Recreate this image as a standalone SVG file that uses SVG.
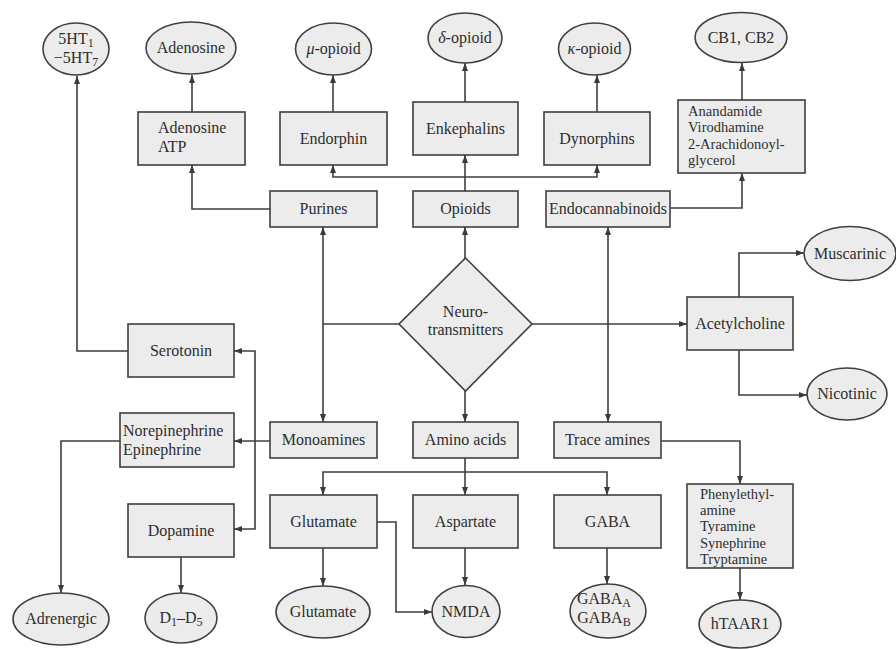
<svg xmlns="http://www.w3.org/2000/svg" width="896" height="649" viewBox="0 0 896 649">
<defs>
<marker id="ah" markerWidth="8" markerHeight="6" refX="8" refY="3" orient="auto" markerUnits="userSpaceOnUse"><path d="M0,0 L8,3 L0,6 z" fill="#3a3a3a"/></marker>
<style>
.b{fill:#ececec;stroke:#3f3f3f;stroke-width:1.6}
.t{font-family:"Liberation Serif","DejaVu Serif",serif;font-size:16px;fill:#2e2e2e;text-anchor:middle}
.l{text-anchor:start}
.m{font-size:14.5px}
.c{fill:none;stroke:#3f3f3f;stroke-width:1.6}
.a{marker-end:url(#ah)}
.s{font-size:12px}
</style>
</defs>
<rect width="896" height="649" fill="#fff"/>
<g id="connectors">
<path class="c a" d="M128,351 H77 V76"/>
<path class="c a" d="M192,112 V75"/>
<path class="c a" d="M270,209 H192 V165"/>
<path class="c a" d="M333,112 V75"/>
<path class="c a" d="M465,102 V63"/>
<path class="c a" d="M597,112 V75"/>
<path class="c a" d="M465,177 H333 V165"/>
<path class="c a" d="M465,177 H597 V165"/>
<path class="c a" d="M465,191 V155"/>
<path class="c a" d="M742,100 V63"/>
<path class="c a" d="M670,208 H742 V173"/>
<path class="c a" d="M465,258 V227"/>
<path class="c a" d="M465,391 V422"/>
<path class="c" d="M399,324 H323"/>
<path class="c a" d="M323,324 V227"/>
<path class="c a" d="M323,324 V422"/>
<path class="c a" d="M532,324 H687"/>
<path class="c a" d="M608,324 V227"/>
<path class="c a" d="M608,324 V422"/>
<path class="c a" d="M739,297 V253 H804"/>
<path class="c a" d="M739,350 V395 H807"/>
<path class="c a" d="M270,441 H234"/>
<path class="c a" d="M255,441 V351 H234"/>
<path class="c a" d="M255,441 V529 H234"/>
<path class="c a" d="M120,441 H61 V593"/>
<path class="c a" d="M181,557 V593"/>
<path class="c" d="M465,458 V472"/>
<path class="c a" d="M465,472 H323 V495"/>
<path class="c a" d="M465,472 V495"/>
<path class="c a" d="M465,472 H607 V495"/>
<path class="c a" d="M323,548 V586"/>
<path class="c a" d="M377,522 H396 V612 H432"/>
<path class="c a" d="M465,548 V585"/>
<path class="c a" d="M607,548 V584"/>
<path class="c a" d="M661,441 H740 V484"/>
<path class="c a" d="M740,568 V600"/>
</g>
<g id="n5ht"><ellipse class="b" cx="76" cy="49" rx="33" ry="26"/><text class="t" x="76" y="44">5HT<tspan class="s" dy="3">1</tspan></text><text class="t" x="76" y="63">−5HT<tspan class="s" dy="3">7</tspan></text></g>
<g id="nadenosineR"><ellipse class="b" cx="191" cy="48" rx="45" ry="26"/><text class="t" x="191" y="53">Adenosine</text></g>
<g id="nmu"><ellipse class="b" cx="333.5" cy="49" rx="38" ry="26"/><text class="t" x="333.5" y="54"><tspan font-style="italic">μ</tspan>-opioid</text></g>
<g id="ndelta"><ellipse class="b" cx="465" cy="38" rx="37" ry="25"/><text class="t" x="465" y="43"><tspan font-style="italic">δ</tspan>-opioid</text></g>
<g id="nkappa"><ellipse class="b" cx="594.5" cy="49" rx="36" ry="26"/><text class="t" x="594.5" y="54"><tspan font-style="italic">κ</tspan>-opioid</text></g>
<g id="ncb"><ellipse class="b" cx="741" cy="37.5" rx="46" ry="25"/><text class="t" x="741" y="43">CB1, CB2</text></g>
<g id="nadenatp"><rect class="b" x="138" y="112" width="107" height="53"/><text class="t l" x="158" y="133">Adenosine</text><text class="t l" x="158" y="152">ATP</text></g>
<g id="nendorphin"><rect class="b" x="280" y="112" width="107" height="53"/><text class="t" x="333.5" y="144">Endorphin</text></g>
<g id="nenkephalins"><rect class="b" x="413" y="102" width="105" height="53"/><text class="t" x="465.5" y="134">Enkephalins</text></g>
<g id="ndynorphins"><rect class="b" x="544" y="112" width="106" height="53"/><text class="t" x="597" y="144">Dynorphins</text></g>
<g id="nanandamide"><rect class="b" x="678" y="100" width="127" height="73"/><text class="t l m" x="688" y="116">Anandamide</text><text class="t l m" x="688" y="132.3">Virodhamine</text><text class="t l m" x="688" y="148.6">2-Arachidonoyl-</text><text class="t l m" x="688" y="164.9">glycerol</text></g>
<g id="npurines"><rect class="b" x="270" y="191" width="107" height="36"/><text class="t" x="323.5" y="214">Purines</text></g>
<g id="nopioids"><rect class="b" x="413" y="191" width="105" height="36"/><text class="t" x="465.5" y="214">Opioids</text></g>
<g id="nendocannabinoids"><rect class="b" x="546" y="191" width="124" height="36"/><text class="t" x="608" y="214">Endocannabinoids</text></g>
<g id="nneuro"><path class="b" d="M465.5,258 L532,324 L465.5,391 L399,324 z"/><text class="t" x="465.5" y="317">Neuro-</text><text class="t" x="465.5" y="335">transmitters</text></g>
<g id="nacetylcholine"><rect class="b" x="687" y="297" width="106" height="53"/><text class="t" x="740" y="329">Acetylcholine</text></g>
<g id="nmuscarinic"><ellipse class="b" cx="850" cy="253.5" rx="46" ry="27"/><text class="t" x="850" y="259">Muscarinic</text></g>
<g id="nnicotinic"><ellipse class="b" cx="847" cy="394" rx="40" ry="26"/><text class="t" x="847" y="399">Nicotinic</text></g>
<g id="nserotonin"><rect class="b" x="128" y="324" width="106" height="53"/><text class="t" x="181" y="356">Serotonin</text></g>
<g id="nnorepinephrine"><rect class="b" x="120" y="413" width="114" height="54"/><text class="t l" x="123" y="436">Norepinephrine</text><text class="t l" x="123" y="455">Epinephrine</text></g>
<g id="nmonoamines"><rect class="b" x="270" y="422" width="107" height="36"/><text class="t" x="323.5" y="445">Monoamines</text></g>
<g id="naminoacids"><rect class="b" x="413" y="422" width="105" height="36"/><text class="t" x="465.5" y="445">Amino acids</text></g>
<g id="ntraceamines"><rect class="b" x="554" y="422" width="107" height="36"/><text class="t" x="607.5" y="445">Trace amines</text></g>
<g id="ndopamine"><rect class="b" x="128" y="504" width="106" height="53"/><text class="t" x="181" y="536">Dopamine</text></g>
<g id="nglutamatebox"><rect class="b" x="270" y="495" width="107" height="53"/><text class="t" x="323.5" y="527">Glutamate</text></g>
<g id="naspartate"><rect class="b" x="413" y="495" width="105" height="53"/><text class="t" x="465.5" y="527">Aspartate</text></g>
<g id="ngaba"><rect class="b" x="554" y="495" width="107" height="53"/><text class="t" x="607.5" y="527">GABA</text></g>
<g id="nphenyl"><rect class="b" x="687" y="484" width="106" height="84"/><text class="t l m" x="700" y="499">Phenylethyl-</text><text class="t l m" x="700" y="515.2">amine</text><text class="t l m" x="700" y="531.4">Tyramine</text><text class="t l m" x="700" y="547.6">Synephrine</text><text class="t l m" x="700" y="563.8">Tryptamine</text></g>
<g id="nadrenergic"><ellipse class="b" cx="61" cy="619" rx="48" ry="26"/><text class="t" x="61" y="624">Adrenergic</text></g>
<g id="nd1d5"><ellipse class="b" cx="181" cy="618" rx="36" ry="25"/><text class="t" x="181" y="623">D<tspan class="s" dy="3">1</tspan><tspan dy="-3">–D</tspan><tspan class="s" dy="3">5</tspan></text></g>
<g id="nglutamate"><ellipse class="b" cx="323" cy="612" rx="47" ry="26"/><text class="t" x="323" y="617">Glutamate</text></g>
<g id="nnmda"><ellipse class="b" cx="466" cy="611.5" rx="34" ry="26"/><text class="t" x="466" y="617">NMDA</text></g>
<g id="ngabar"><ellipse class="b" cx="608" cy="611" rx="38" ry="27"/><text class="t" x="604" y="604">GABA<tspan class="s" dy="3">A</tspan></text><text class="t" x="604" y="623">GABA<tspan class="s" dy="3">B</tspan></text></g>
<g id="nhtaar1"><ellipse class="b" cx="740" cy="624" rx="41" ry="24"/><text class="t" x="740" y="629">hTAAR1</text></g>
</svg>
